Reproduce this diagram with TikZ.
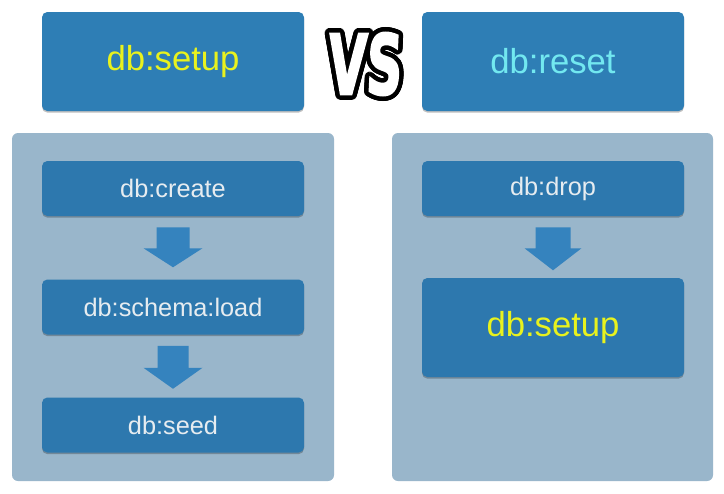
\documentclass[tikz,border=0pt]{standalone}
\usepackage{fontspec}
\setmainfont{Liberation Sans}
\newfontfamily\vsfont{DejaVu Sans}[FakeSlant=0.08, FakeBold=3]
\usetikzlibrary{calc,shadows}
\definecolor{topbox}{HTML}{2E7EB5}
\definecolor{lowbox}{HTML}{2D78AE}
\definecolor{panelc}{HTML}{99B6CB}
\definecolor{arrowc}{HTML}{3583BE}
\definecolor{yel}{HTML}{E8F21E}
\definecolor{cya}{HTML}{72E8F0}
\definecolor{lowtxt}{HTML}{E6ECF0}
\begin{document}
\begin{tikzpicture}[x=0.75pt,y=-0.75pt,
  panel/.style={fill=panelc, rounded corners=4.5pt, draw=none, inner sep=0pt, minimum width=#1},
  bigbox/.style={fill=topbox, rounded corners=4pt, inner sep=0pt, minimum width=196.5pt, minimum height=74.25pt,
     font=\fontsize{26}{30}\selectfont, drop shadow={shadow xshift=0pt, shadow yshift=-1.2pt, opacity=0.25, fill=black}},
  smallbox/.style={fill=lowbox, rounded corners=4pt, inner sep=0pt, minimum width=196.5pt, minimum height=41.25pt,
     font=\fontsize{19}{23}\selectfont, text=lowtxt, drop shadow={shadow xshift=0pt, shadow yshift=-1.2pt, opacity=0.25, fill=black}},
  vsstyle/.style={font=\vsfont\bfseries\fontsize{62}{62}\selectfont, inner sep=0pt},
  blockarrow/.style={fill=arrowc, draw=none}
]
\useasboundingbox (0,0) rectangle (724,493);
\fill[white] (0,0) rectangle (724,493);

% panels
\node[panel=241.5pt, minimum height=261pt] (lpanel) at (173,307) {};
\node[panel=240.75pt, minimum height=261pt] (rpanel) at (552.5,307) {};

% top boxes
\node[bigbox, text=yel] (setupA) at (173,61.5) {db:setup};
\node[bigbox, text=cya] (reset) at (553,61.5) {db:reset};

% VS (white letters with a thick black outline)
\coordinate (vsc) at (364,64);
\foreach \a [count=\i] in {0,15,...,345}
  \node[vsstyle, text=black] (vsshadow\i) at ($(vsc)+(\a:4.5)$) {\scalebox{0.6}[1]{VS}};
\node[vsstyle, text=white] (vs) at (vsc) {\scalebox{0.6}[1]{VS}};

% left column
\node[smallbox] (create) at (173,188.5) {db:create};
\node[smallbox] (schema) at (173,307) {db:schema:load};
\node[smallbox] (seed) at (173,425) {db:seed};

% right column
\node[smallbox] (drop) at (553,188.5) {db:drop};
\node[bigbox, fill=lowbox, text=yel] (setupB) at (553,327.5) {db:setup};

% block arrows
\fill[blockarrow] ($(create.south)+(-16.5,11)$) -- ($(create.south)+(16.5,11)$) -- ($(create.south)+(16.5,32)$)
   -- ($(create.south)+(29.5,32)$) -- ($(create.south)+(0,51)$) -- ($(create.south)+(-29.5,32)$)
   -- ($(create.south)+(-16.5,32)$) -- cycle;
\fill[blockarrow] ($(schema.south)+(-15.5,11)$) -- ($(schema.south)+(15.5,11)$) -- ($(schema.south)+(15.5,33)$)
   -- ($(schema.south)+(29.5,33)$) -- ($(schema.south)+(0,54)$) -- ($(schema.south)+(-29.5,33)$)
   -- ($(schema.south)+(-15.5,33)$) -- cycle;
\fill[blockarrow] ($(drop.south)+(-17.5,11)$) -- ($(drop.south)+(17.5,11)$) -- ($(drop.south)+(17.5,32)$)
   -- ($(drop.south)+(28.5,32)$) -- ($(drop.south)+(0,54)$) -- ($(drop.south)+(-28.5,32)$)
   -- ($(drop.south)+(-17.5,32)$) -- cycle;
\end{tikzpicture}
\end{document}
